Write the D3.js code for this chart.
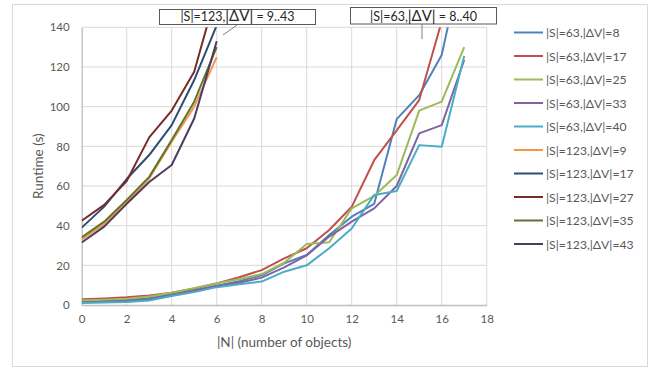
<!DOCTYPE html>
<html>
<head>
<meta charset="utf-8">
<script src="https://cdn.jsdelivr.net/npm/d3@7"></script>
<style>
  body { margin: 0; background: #fff; }
  text { font-family: Lato, "Liberation Sans", sans-serif; }
</style>
</head>
<body>
<div id="chart"></div>
<script>
// x values
const nSmall = [0, 1, 2, 3, 4, 5, 6, 7, 8, 9, 10, 11, 12, 13, 14, 15, 16, 17];
const nLarge = [0, 1, 2, 3, 4, 5, 6];

// |S|=63 runs
const s63dv8  = [1.7, 2.0, 2.5, 3.4, 5.5, 7.4, 9.7, 12, 15, 21, 25.2, 35.3, 44.5, 51, 93.7, 105.8, 126, 178];
const s63dv17 = [2.9, 3.3, 3.9, 4.8, 6.2, 8.3, 10.9, 14, 17.6, 23.5, 28.6, 37.8, 49.5, 73, 88, 103.3, 143];
const s63dv25 = [2.4, 2.7, 3.2, 4.3, 6.2, 8.5, 11, 13, 15.6, 21.3, 30.8, 31.6, 48.7, 55, 65.5, 98, 102.5, 130];
const s63dv33 = [1.3, 1.6, 2.0, 2.8, 5.0, 7.0, 9.6, 11.2, 13.8, 19, 25, 34.5, 42, 48.7, 60, 86.5, 90.7, 123.5];
const s63dv40 = [1.0, 1.2, 1.5, 2.3, 4.5, 6.5, 9, 10.5, 11.8, 16.8, 20, 28.6, 38.6, 55.5, 57.5, 80.6, 79.8, 125.5];

// |S|=123 runs
const s123dv9  = [33, 40.8, 52, 63.8, 82.3, 100, 125];
const s123dv17 = [39, 49.6, 63.5, 75.6, 90.7, 113.4, 141];
const s123dv27 = [42.5, 50.5, 62.5, 84.5, 98, 117.6, 158];
const s123dv35 = [34.1, 42, 53, 64.6, 83.2, 102.5, 130];
const s123dv43 = [31.5, 39.5, 51, 62, 70.6, 94, 133];

const xTicks = [0, 2, 4, 6, 8, 10, 12, 14, 16, 18];
const yTicks = [0, 20, 40, 60, 80, 100, 120, 140];

const series = [
  { name: "|S|=63,|ΔV|=8",   xs: nSmall, ys: s63dv8,   color: "#4f81bd" },
  { name: "|S|=63,|ΔV|=17",  xs: nSmall, ys: s63dv17,  color: "#c0504d" },
  { name: "|S|=63,|ΔV|=25",  xs: nSmall, ys: s63dv25,  color: "#9bbb59" },
  { name: "|S|=63,|ΔV|=33",  xs: nSmall, ys: s63dv33,  color: "#8064a2" },
  { name: "|S|=63,|ΔV|=40",  xs: nSmall, ys: s63dv40,  color: "#4bacc6" },
  { name: "|S|=123,|ΔV|=9",  xs: nLarge, ys: s123dv9,  color: "#f79646" },
  { name: "|S|=123,|ΔV|=17", xs: nLarge, ys: s123dv17, color: "#2c4d75" },
  { name: "|S|=123,|ΔV|=27", xs: nLarge, ys: s123dv27, color: "#772c2a" },
  { name: "|S|=123,|ΔV|=35", xs: nLarge, ys: s123dv35, color: "#5f7530" },
  { name: "|S|=123,|ΔV|=43", xs: nLarge, ys: s123dv43, color: "#4d3b62" }
];

const width = 656, height = 369;
const plot = { left: 81.7, right: 486.7, top: 27.3, bottom: 305 };

const svg = d3.select("#chart").append("svg")
  .attr("width", width)
  .attr("height", height);

// chart frame
svg.append("rect")
  .attr("x", 12.5).attr("y", 4.5)
  .attr("width", 635).attr("height", 362)
  .attr("fill", "#fff")
  .attr("stroke", "#d9d9d9");

const x = d3.scaleLinear().domain([0, 18]).range([plot.left, plot.right]);
const y = d3.scaleLinear().domain([0, 140]).range([plot.bottom, plot.top]);

// gridlines
svg.append("g")
  .selectAll("line.h")
  .data(yTicks.slice(1))
  .enter().append("line")
  .attr("x1", plot.left).attr("x2", plot.right)
  .attr("y1", d => y(d)).attr("y2", d => y(d))
  .attr("stroke", "#d9d9d9").attr("stroke-width", 1);

svg.append("g")
  .selectAll("line.v")
  .data(xTicks.slice(1))
  .enter().append("line")
  .attr("x1", d => x(d)).attr("x2", d => x(d))
  .attr("y1", plot.top).attr("y2", plot.bottom)
  .attr("stroke", "#d9d9d9").attr("stroke-width", 1);

// axes
const xAxis = svg.append("g")
  .attr("transform", `translate(0,${plot.bottom})`)
  .call(d3.axisBottom(x).tickValues(xTicks).tickSize(0).tickPadding(10));
const yAxis = svg.append("g")
  .attr("transform", `translate(${plot.left},0)`)
  .call(d3.axisLeft(y).tickValues(yTicks).tickSize(0).tickPadding(12));

[xAxis, yAxis].forEach(a => {
  a.select(".domain").attr("stroke", "#bfbfbf").attr("stroke-width", 1.3);
  a.selectAll("text").attr("fill", "#595959").style("font-size", "11.5px");
});

// axis titles
svg.append("text")
  .attr("x", (plot.left + plot.right) / 2).attr("y", 347)
  .attr("text-anchor", "middle")
  .attr("fill", "#595959").style("font-size", "13.5px")
  .text("|N| (number of objects)");

svg.append("text")
  .attr("transform", `translate(43,${(plot.top + plot.bottom) / 2}) rotate(-90)`)
  .attr("text-anchor", "middle")
  .attr("fill", "#595959").style("font-size", "13.5px")
  .text("Runtime (s)");

// lines, clipped to plot area
svg.append("clipPath").attr("id", "plotClip")
  .append("rect")
  .attr("x", plot.left).attr("y", plot.top)
  .attr("width", plot.right - plot.left).attr("height", plot.bottom - plot.top);

const line = d3.line()
  .x(d => x(d[0]))
  .y(d => y(d[1]));

svg.append("g")
  .attr("clip-path", "url(#plotClip)")
  .selectAll("path")
  .data(series)
  .enter().append("path")
  .attr("d", s => line(s.ys.map((v, i) => [s.xs[i], v])))
  .attr("fill", "none")
  .attr("stroke", s => s.color)
  .attr("stroke-width", 2)
  .attr("stroke-linejoin", "round");

// legend
const legend = svg.append("g")
  .selectAll("g")
  .data(series)
  .enter().append("g")
  .attr("transform", (d, i) => `translate(514,${32.5 + i * 23.5})`);

legend.append("line")
  .attr("x1", 0).attr("x2", 29)
  .attr("stroke", d => d.color)
  .attr("stroke-width", 2);

legend.append("text")
  .attr("x", 32).attr("y", 4.5)
  .attr("fill", "#595959").style("font-size", "12.2px")
  .text(d => d.name);

// callout boxes
function callout(bx, by, bw, bh, s, range, lx1, ly1, lx2, ly2) {
  svg.append("line")
    .attr("x1", lx1).attr("y1", ly1).attr("x2", lx2).attr("y2", ly2)
    .attr("stroke", "#7f7f7f").attr("stroke-width", 1);
  svg.append("rect")
    .attr("x", bx).attr("y", by).attr("width", bw).attr("height", bh)
    .attr("fill", "#fff").attr("stroke", "#595959").attr("stroke-width", 1);
  const t = svg.append("text")
    .attr("x", bx + bw / 2).attr("y", by + bh - 3.5)
    .attr("text-anchor", "middle")
    .attr("fill", "#262626").style("font-size", "12.5px");
  t.append("tspan").text(`|S|=${s},`);
  t.append("tspan").style("font-size", "15px").text("|ΔV|");
  t.append("tspan").text(` = ${range}`);
}

callout(159.5, 9.5, 156, 15, "123", "9..43", 223, 35, 237, 25);
callout(350.5, 7.5, 146, 16.5, "63", "8..40", 422, 39, 422, 24);
</script>
</body>
</html>
